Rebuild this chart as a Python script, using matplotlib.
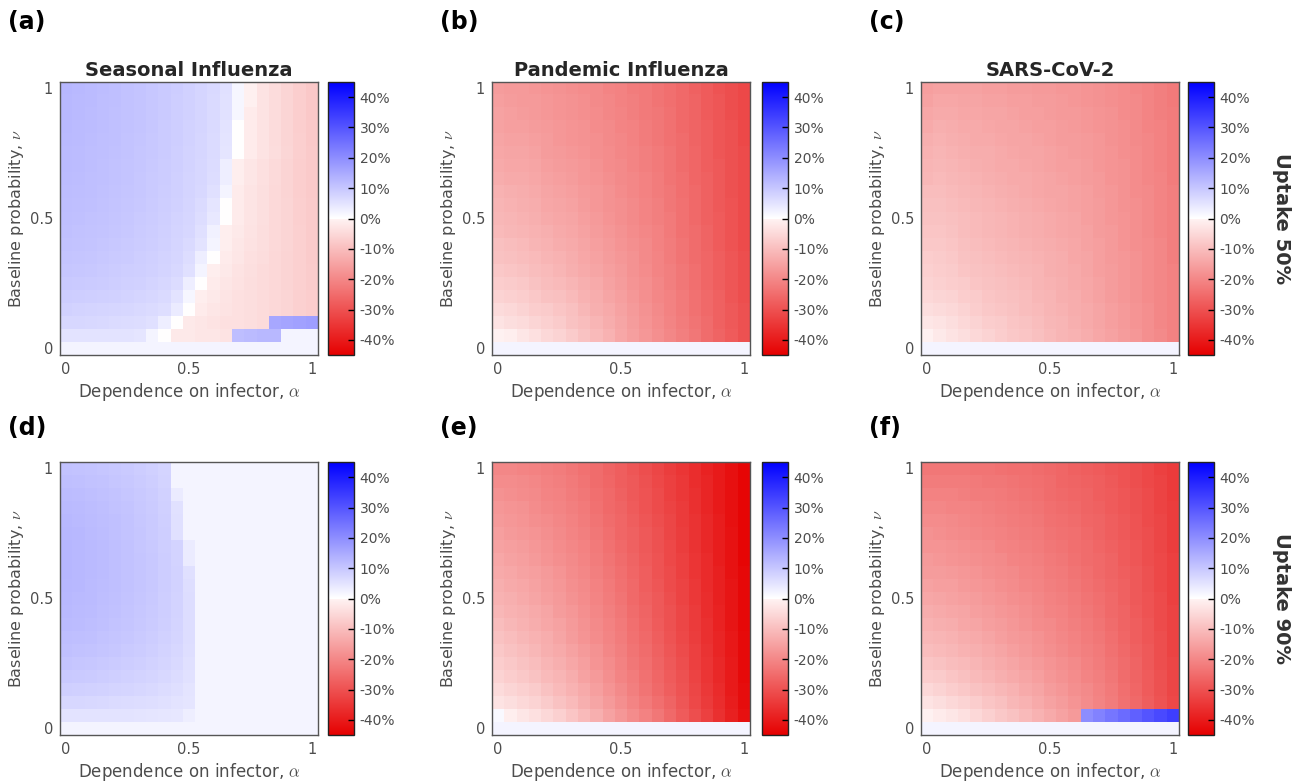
import numpy as np
import matplotlib
matplotlib.use("Agg")
import matplotlib.pyplot as plt
from matplotlib.colors import LinearSegmentedColormap, Normalize

plt.rcParams['font.family'] = ['DejaVu Sans']
plt.rcParams['mathtext.fontset'] = 'cm'

# grid values
alpha_vals = [0.0, 0.05, 0.1, 0.15, 0.2, 0.25, 0.3, 0.35, 0.4, 0.45, 0.5,
              0.55, 0.6, 0.65, 0.7, 0.75, 0.8, 0.85, 0.9, 0.95, 1.0]
nu_vals = [0.0, 0.05, 0.1, 0.15, 0.2, 0.25, 0.3, 0.35, 0.4, 0.45, 0.5,
           0.55, 0.6, 0.65, 0.7, 0.75, 0.8, 0.85, 0.9, 0.95, 1.0]

# rows: nu = 0 ... 1 (bottom to top); columns: alpha = 0 ... 1 ; values in %
seasonal_50 = [
 [2]*21,
 [5,5,5,5,5,5,4.5,2,0,-2,-2,-2.5,-2.5,-3,11.5,12,12.5,12.5,2,2,2],
 [7,7,6.8,6.6,6.4,6.2,6,5.5,3,0,-2,-2.5,-3,-3.5,-3.5,-4,-4.5,15.5,16,16.5,17],
 [8,7.8,7.6,7.4,7.2,7,6.7,6.3,5.8,3.5,0,-1.5,-2.5,-3,-3.5,-4,-4.5,-5,-5.5,-6.5,-7],
 [8.8,8.6,8.4,8.2,8,7.7,7.4,7,6.5,5,1.5,-1,-2,-2.8,-3.5,-4,-4.5,-5,-5.5,-6.5,-7],
 [9.5,9.3,9.1,8.9,8.6,8.3,8,7.6,7,6.2,3,0,-1.5,-2.5,-3.2,-4,-4.5,-5,-5.8,-6.5,-7.2],
 [10,9.8,9.6,9.3,9,8.7,8.4,8,7.5,6.8,5.5,2,-1,-2,-3,-3.8,-4.5,-5,-5.8,-6.5,-7.2],
 [10.4,10.2,10,9.7,9.4,9.1,8.7,8.3,7.8,7.2,6,3,0,-1.5,-2.5,-3.5,-4.2,-5,-5.8,-6.5,-7.3],
 [10.8,10.6,10.3,10,9.7,9.4,9,8.6,8,7.4,6.5,5,2,-1,-2.2,-3.2,-4,-4.8,-5.6,-6.5,-7.3],
 [11,10.8,10.6,10.3,10,9.6,9.2,8.8,8.2,7.6,7,5.5,2.5,-1,-2,-3,-4,-4.8,-5.6,-6.5,-7.4],
 [11.2,11,10.8,10.5,10.2,9.8,9.4,9,8.4,7.8,7.2,6,4,0,-1.5,-2.8,-3.8,-4.8,-5.6,-6.6,-7.5],
 [11.4,11.2,11,10.7,10.4,10,9.6,9.2,8.6,8,7.4,6.4,4.5,0,-1.5,-2.8,-3.8,-4.8,-5.7,-6.7,-7.5],
 [11.6,11.4,11.2,10.9,10.6,10.2,9.8,9.3,8.8,8.2,7.5,6.8,5.5,2,-1.5,-2.8,-3.8,-4.8,-5.8,-6.8,-7.6],
 [11.8,11.6,11.3,11,10.7,10.3,9.9,9.4,8.9,8.3,7.6,7,6,3,-1,-2.5,-3.6,-4.7,-5.8,-6.8,-7.6],
 [12,11.7,11.4,11.1,10.8,10.4,10,9.5,9,8.4,7.7,7.1,6.2,3,-1,-2.5,-3.6,-4.7,-5.8,-6.8,-7.7],
 [12,11.8,11.5,11.2,10.9,10.5,10.1,9.6,9.1,8.5,7.8,7.2,6.4,4.5,0,-1.5,-3,-4.2,-5.4,-6.6,-7.7],
 [12.2,11.9,11.6,11.3,11,10.6,10.2,9.7,9.2,8.6,7.9,7.2,6.4,4.8,0,-1.5,-3,-4.3,-5.5,-6.7,-7.8],
 [12.3,12,11.7,11.4,11.1,10.7,10.3,9.8,9.2,8.6,7.9,7.3,6.5,5,0,-1.5,-3,-4.3,-5.5,-6.8,-7.9],
 [12.4,12.1,11.8,11.5,11.1,10.7,10.3,9.8,9.3,8.7,8,7.3,6.5,5.2,1.5,-1.5,-3,-4.3,-5.5,-6.8,-8],
 [12.5,12.2,11.9,11.5,11.2,10.8,10.4,9.9,9.3,8.7,8,7.3,6.5,5.3,1.5,-0.7,-3,-4.3,-5.5,-6.8,-8],
 [12.6,12.3,12,11.6,11.2,10.8,10.4,9.9,9.4,8.8,8.1,7.4,6.6,5.4,1.5,-0.7,-3,-4.3,-5.6,-6.8,-8],
]

pandemic_50 = [
 [2]*21,
 [-0.5,-1,-2.5,-3.5,-5,-6,-7.5,-9,-10.5,-12,-14,-15.5,-17,-18.5,-20,-21.5,-23,-25,-26.5,-28,-30],
 [-3,-4,-4.5,-5.5,-6.5,-7.5,-9,-10,-11.5,-13,-14.5,-16,-17.5,-19,-20.5,-22,-23.5,-25,-27,-28.5,-30],
 [-4.5,-5,-6,-7,-7.5,-8.5,-9.5,-11,-12.5,-13.5,-15,-16.5,-18,-19.5,-21,-22.5,-24,-25.5,-27,-28.5,-30],
 [-6,-6.5,-7,-8,-9,-9.5,-10.5,-12,-13,-14.5,-15.5,-17,-18.5,-20,-21,-22.5,-24,-25.5,-27,-29,-30.5],
 [-7,-7.5,-8,-9,-10,-10.5,-11.5,-12.5,-13.5,-15,-16,-17.5,-18.5,-20,-21.5,-23,-24.5,-26,-27.5,-29,-30.5],
 [-8,-8.5,-9,-10,-10.5,-11.5,-12.5,-13.5,-14.5,-15.5,-16.5,-18,-19,-20.5,-21.5,-23,-24.5,-26,-27.5,-29,-30.5],
 [-9,-9.5,-10,-10.5,-11.5,-12,-13,-14,-15,-16,-17,-18,-19.5,-20.5,-22,-23.5,-25,-26,-27.5,-29,-30.5],
 [-9.5,-10,-10.5,-11.5,-12,-13,-13.5,-14.5,-15.5,-16.5,-17.5,-18.5,-19.5,-21,-22,-23.5,-25,-26.5,-28,-29.5,-31],
 [-10.5,-11,-11.5,-12,-12.5,-13.5,-14,-15,-16,-17,-18,-19,-20,-21,-22.5,-24,-25,-26.5,-28,-29.5,-31],
 [-11,-11.5,-12,-12.5,-13.5,-14,-14.5,-15.5,-16.5,-17.5,-18.5,-19.5,-20.5,-21.5,-22.5,-24,-25.5,-27,-28,-29.5,-31],
 [-11.5,-12,-12.5,-13,-14,-14.5,-15,-16,-17,-18,-18.5,-19.5,-20.5,-21.5,-23,-24,-25.5,-27,-28.5,-29.5,-31],
 [-12,-12.5,-13,-13.5,-14.5,-15,-15.5,-16.5,-17,-18,-19,-20,-21,-22,-23,-24.5,-25.5,-27,-28.5,-30,-31],
 [-13,-13.5,-13.5,-14,-15,-15.5,-16,-17,-17.5,-18.5,-19.5,-20,-21,-22,-23.5,-24.5,-26,-27,-28.5,-30,-31],
 [-13.5,-14,-14,-14.5,-15.5,-16,-16.5,-17,-18,-19,-19.5,-20.5,-21.5,-22.5,-23.5,-25,-26,-27.5,-28.5,-30,-31],
 [-14,-14.5,-14.5,-15,-16,-16.5,-17,-17.5,-18.5,-19,-20,-20.5,-21.5,-22.5,-23.5,-25,-26,-27.5,-29,-30,-31],
 [-14.5,-15,-15,-15.5,-16,-17,-17.5,-18,-18.5,-19.5,-20,-21,-22,-23,-24,-25,-26.5,-27.5,-29,-30,-31.5],
 [-15,-15.5,-15.5,-16,-16.5,-17,-17.5,-18,-19,-19.5,-20.5,-21,-22,-23,-24,-25.5,-26.5,-27.5,-29,-30,-31.5],
 [-15,-15.5,-16,-16.5,-17,-17.5,-18,-18.5,-19,-20,-20.5,-21.5,-22.5,-23,-24,-25.5,-26.5,-28,-29,-30.5,-31.5],
 [-15.5,-16,-16.5,-16.5,-17,-17.5,-18,-18.5,-19.5,-20,-21,-21.5,-22.5,-23.5,-24.5,-25.5,-26.5,-28,-29,-30.5,-31.5],
 [-16,-16.5,-16.5,-17,-17.5,-18,-18.5,-19,-19.5,-20.5,-21,-22,-22.5,-23.5,-24.5,-25.5,-27,-28,-29.5,-30.5,-31.5],
]

sars_50 = [
 [2]*21,
 [-0.5,-2,-3,-4,-5,-6,-7,-8,-8.5,-9.5,-10.5,-11.5,-12,-13,-14,-15,-16,-17,-18.5,-19.5,-21],
 [-2.5,-3,-4,-5,-6,-7,-7.5,-8.5,-9,-10,-11,-11.5,-12.5,-13.5,-14.5,-15.5,-16.5,-17.5,-18.5,-20,-21],
 [-4,-4.5,-5,-6,-7,-8,-8.5,-9,-10,-10.5,-11.5,-12,-13,-13.5,-14.5,-15.5,-16.5,-17.5,-18.5,-20,-21],
 [-5,-5.5,-6,-7,-7.5,-8.5,-9,-9.5,-10,-11,-11.5,-12.5,-13,-14,-15,-16,-17,-18,-19,-20,-21],
 [-6,-6.5,-7,-7.5,-8.5,-9,-9.5,-10,-10.5,-11.5,-12,-12.5,-13.5,-14,-15,-16,-17,-18,-19,-20,-21],
 [-6.5,-7,-7.5,-8.5,-9,-9.5,-10,-10.5,-11,-11.5,-12.5,-13,-13.5,-14.5,-15.5,-16,-17,-18,-19,-20,-21],
 [-7,-7.5,-8,-9,-9.5,-10,-10.5,-11,-11.5,-12,-12.5,-13,-14,-14.5,-15.5,-16.5,-17,-18,-19,-20,-21.5],
 [-8,-8,-8.5,-9.5,-10,-10.5,-11,-11.5,-12,-12.5,-13,-13.5,-14,-15,-15.5,-16.5,-17.5,-18.5,-19,-20,-21.5],
 [-8.5,-8.5,-9,-10,-10.5,-11,-11.5,-12,-12.5,-13,-13.5,-14,-14.5,-15,-16,-16.5,-17.5,-18.5,-19.5,-20.5,-21.5],
 [-9,-9,-9.5,-10,-10.5,-11,-11.5,-12,-12.5,-13,-13.5,-14,-14.5,-15.5,-16,-17,-17.5,-18.5,-19.5,-20.5,-21.5],
 [-9.5,-9.5,-10,-10.5,-11,-11.5,-12,-12.5,-13,-13.5,-14,-14.5,-15,-15.5,-16,-17,-18,-18.5,-19.5,-20.5,-21.5],
 [-10,-10,-10.5,-11,-11.5,-12,-12.5,-13,-13.5,-14,-14.5,-14.5,-15,-15.5,-16.5,-17,-18,-19,-19.5,-20.5,-21.5],
 [-11,-10.5,-11,-11.5,-12,-12.5,-13,-13.5,-13.5,-14,-14.5,-15,-15.5,-16,-16.5,-17.5,-18,-19,-20,-20.5,-22],
 [-11.5,-11,-11.5,-12,-12.5,-13,-13.5,-13.5,-14,-14.5,-15,-15.5,-15.5,-16,-17,-17.5,-18,-19,-20,-21,-22],
 [-12,-11.5,-12,-12.5,-13,-13,-13.5,-14,-14.5,-14.5,-15,-15.5,-16,-16.5,-17,-17.5,-18.5,-19,-20,-21,-22],
 [-12.5,-12,-12.5,-13,-13.5,-13.5,-14,-14.5,-14.5,-15,-15.5,-16,-16,-16.5,-17,-18,-18.5,-19.5,-20,-21,-22],
 [-13.5,-12.5,-13,-13.5,-13.5,-14,-14.5,-14.5,-15,-15.5,-15.5,-16,-16.5,-17,-17.5,-18,-18.5,-19.5,-20.5,-21,-22],
 [-14,-13.5,-13.5,-14,-14,-14.5,-14.5,-15,-15.5,-15.5,-16,-16.5,-16.5,-17,-17.5,-18,-19,-19.5,-20.5,-21.5,-22],
 [-15,-14,-14,-14.5,-14.5,-15,-15,-15.5,-15.5,-16,-16,-16.5,-17,-17.5,-18,-18.5,-19,-19.5,-20.5,-21.5,-22.5],
 [-15.5,-15,-15,-15,-15,-15.5,-15.5,-16,-16,-16.5,-16.5,-17,-17,-17.5,-18,-18.5,-19,-20,-20.5,-21.5,-22.5],
]

seasonal_90 = [
 [2]*21,
 [5,5,5,5,5,5,4.8,4.6,4.4,4.2,3,2,2,2,2,2,2,2,2,2,2],
 [7,7,6.8,6.6,6.4,6.2,6,5.8,5.5,5,4.5,2,2,2,2,2,2,2,2,2,2],
 [8.5,8.3,8.1,7.9,7.6,7.3,7,6.6,6.2,5.6,4.8,2,2,2,2,2,2,2,2,2,2],
 [9.5,9.3,9.1,8.8,8.5,8.1,7.7,7.3,6.8,6.2,5.2,2,2,2,2,2,2,2,2,2,2],
 [10.3,10.1,9.8,9.5,9.2,8.8,8.4,7.9,7.3,6.6,5.5,2,2,2,2,2,2,2,2,2,2],
 [11,10.8,10.5,10.2,9.8,9.4,8.9,8.4,7.8,7,5.8,2,2,2,2,2,2,2,2,2,2],
 [11.5,11.3,11,10.6,10.2,9.8,9.3,8.8,8.1,7.3,6,2,2,2,2,2,2,2,2,2,2],
 [12,11.7,11.4,11,10.6,10.2,9.7,9.1,8.4,7.5,6,2,2,2,2,2,2,2,2,2,2],
 [12.3,12,11.7,11.3,10.9,10.4,9.9,9.3,8.6,7.7,6,2,2,2,2,2,2,2,2,2,2],
 [12.5,12.2,11.9,11.5,11.1,10.6,10.1,9.5,8.7,7.8,6,2,2,2,2,2,2,2,2,2,2],
 [12.7,12.4,12,11.6,11.2,10.7,10.2,9.6,8.8,7.9,5.8,2,2,2,2,2,2,2,2,2,2],
 [12.8,12.5,12.1,11.7,11.2,10.7,10.2,9.6,8.8,7.9,5.5,2,2,2,2,2,2,2,2,2,2],
 [12.8,12.5,12.1,11.7,11.2,10.7,10.2,9.6,8.8,7.8,3.5,2,2,2,2,2,2,2,2,2,2],
 [12.8,12.5,12.1,11.7,11.2,10.7,10.1,9.5,8.7,7.7,3.5,2,2,2,2,2,2,2,2,2,2],
 [12.7,12.4,12,11.6,11.1,10.6,10,9.4,8.6,5.5,2,2,2,2,2,2,2,2,2,2,2],
 [12.5,12.2,11.8,11.4,11,10.5,9.9,9.3,8.5,5.5,2,2,2,2,2,2,2,2,2,2,2],
 [12.2,12,11.6,11.2,10.8,10.3,9.7,9.1,8.3,5.3,2,2,2,2,2,2,2,2,2,2,2],
 [11.8,11.6,11.3,10.9,10.5,10,9.5,8.9,8.1,3.5,2,2,2,2,2,2,2,2,2,2,2],
 [11.3,11.1,10.8,10.5,10.1,9.7,9.2,8.6,7.8,2,2,2,2,2,2,2,2,2,2,2,2],
 [10.8,10.6,10.3,10,9.7,9.3,8.8,8.3,7.5,2,2,2,2,2,2,2,2,2,2,2,2],
]

pandemic_90 = [
 [2]*21,
 [1,-1,-2.5,-3.5,-5,-6.5,-8.5,-10.5,-12.5,-15,-17,-19,-21,-23,-25.5,-28,-30.5,-33,-36,-39,-42],
 [-3,-4,-5,-6,-7.5,-9,-10.5,-12.5,-14.5,-16.5,-18.5,-20.5,-22.5,-24.5,-26.5,-29,-31.5,-34,-36.5,-39.5,-42.5],
 [-4.5,-5.5,-6.5,-7.5,-9,-10.5,-12,-13.5,-15.5,-17.5,-19.5,-21.5,-23.5,-25.5,-27.5,-29.5,-32,-34.5,-37,-40,-42.5],
 [-6,-7,-8,-9,-10.5,-11.5,-13,-15,-16.5,-18.5,-20.5,-22,-24,-26,-28,-30,-32.5,-35,-37.5,-40,-43],
 [-7,-8,-9,-10,-11.5,-12.5,-14,-15.5,-17.5,-19,-21,-23,-24.5,-26.5,-28.5,-30.5,-33,-35,-37.5,-40,-43],
 [-8,-9,-10,-11,-12.5,-13.5,-15,-16.5,-18,-20,-21.5,-23.5,-25,-27,-29,-31,-33,-35.5,-38,-40.5,-43],
 [-9,-10,-11,-12,-13,-14.5,-16,-17.5,-19,-20.5,-22,-24,-25.5,-27.5,-29.5,-31.5,-33.5,-36,-38,-40.5,-43],
 [-10,-11,-12,-13,-14,-15,-16.5,-18,-19.5,-21,-22.5,-24.5,-26,-28,-30,-32,-34,-36,-38.5,-41,-43.5],
 [-11,-12,-12.5,-13.5,-14.5,-16,-17,-18.5,-20,-21.5,-23,-25,-26.5,-28.5,-30,-32,-34,-36.5,-38.5,-41,-43.5],
 [-12,-12.5,-13.5,-14.5,-15.5,-16.5,-18,-19,-20.5,-22,-23.5,-25.5,-27,-28.5,-30.5,-32.5,-34.5,-36.5,-39,-41,-43.5],
 [-12.5,-13.5,-14,-15,-16,-17,-18.5,-19.5,-21,-22.5,-24,-25.5,-27.5,-29,-31,-32.5,-34.5,-37,-39,-41,-43.5],
 [-13.5,-14,-15,-15.5,-16.5,-17.5,-19,-20,-21.5,-23,-24.5,-26,-27.5,-29.5,-31,-33,-35,-37,-39,-41.5,-43.5],
 [-14,-15,-15.5,-16.5,-17.5,-18.5,-19.5,-20.5,-22,-23.5,-25,-26.5,-28,-29.5,-31.5,-33,-35,-37,-39.5,-41.5,-44],
 [-15,-15.5,-16,-17,-18,-19,-20,-21,-22.5,-24,-25.5,-27,-28.5,-30,-31.5,-33.5,-35.5,-37.5,-39.5,-41.5,-44],
 [-15.5,-16.5,-17,-17.5,-18.5,-19.5,-20.5,-21.5,-23,-24.5,-26,-27,-28.5,-30,-32,-33.5,-35.5,-37.5,-39.5,-41.5,-44],
 [-16.5,-17,-17.5,-18.5,-19,-20,-21,-22,-23.5,-25,-26,-27.5,-29,-30.5,-32,-34,-35.5,-37.5,-39.5,-42,-44],
 [-17,-17.5,-18,-19,-20,-20.5,-21.5,-22.5,-24,-25.5,-26.5,-28,-29.5,-31,-32.5,-34,-36,-38,-40,-42,-44],
 [-18,-18.5,-19,-19.5,-20.5,-21,-22,-23,-24.5,-25.5,-27,-28.5,-29.5,-31,-33,-34.5,-36,-38,-40,-42,-44],
 [-19,-19,-19.5,-20,-21,-21.5,-22.5,-23.5,-25,-26,-27.5,-28.5,-30,-31.5,-33,-34.5,-36.5,-38,-40,-42,-44],
 [-20,-20,-20.5,-21,-21.5,-22,-23,-24,-25,-26.5,-27.5,-29,-30.5,-32,-33.5,-35,-36.5,-38.5,-40,-42,-44],
]

sars_90 = [
 [2]*21,
 [-0.5,-1.5,-2.5,-3.5,-5,-6.5,-8,-9,-10.5,-12,-13.5,-15,-16.5,20,22,24,26,28,30,32,34],
 [-3,-4,-5,-6,-7,-8.5,-9.5,-11,-12,-13.5,-15,-16,-17.5,-19,-20.5,-22,-24,-25.5,-27.5,-29.5,-31.5],
 [-5,-6,-7,-8,-9,-10,-11,-12,-13.5,-14.5,-16,-17,-18.5,-19.5,-21,-22.5,-24.5,-26,-28,-30,-32],
 [-7,-7.5,-8.5,-9.5,-10.5,-11.5,-12.5,-13.5,-14.5,-15.5,-17,-18,-19,-20.5,-21.5,-23,-25,-26.5,-28,-30,-32],
 [-8.5,-9,-10,-10.5,-11.5,-12.5,-13.5,-14.5,-15.5,-16.5,-17.5,-18.5,-19.5,-21,-22,-23.5,-25,-26.5,-28.5,-30.5,-32],
 [-10,-10.5,-11,-12,-12.5,-13.5,-14.5,-15.5,-16.5,-17.5,-18.5,-19.5,-20.5,-21.5,-22.5,-24,-25.5,-27,-28.5,-30.5,-32.5],
 [-11,-11.5,-12,-13,-13.5,-14.5,-15.5,-16.5,-17,-18,-19,-20,-21,-22,-23,-24.5,-26,-27.5,-29,-30.5,-32.5],
 [-12,-12.5,-13,-14,-14.5,-15.5,-16,-17,-18,-19,-19.5,-20.5,-21.5,-22.5,-23.5,-25,-26.5,-27.5,-29,-31,-32.5],
 [-13,-13.5,-14,-14.5,-15.5,-16,-17,-17.5,-18.5,-19.5,-20.5,-21,-22,-23,-24,-25.5,-26.5,-28,-29.5,-31,-32.5],
 [-14,-14.5,-15,-15.5,-16,-17,-17.5,-18.5,-19,-20,-21,-21.5,-22.5,-23.5,-24.5,-25.5,-27,-28.5,-29.5,-31,-33],
 [-15,-15.5,-15.5,-16.5,-17,-17.5,-18.5,-19,-20,-20.5,-21.5,-22,-23,-24,-25,-26,-27,-28.5,-30,-31.5,-33],
 [-16,-16,-16.5,-17,-17.5,-18.5,-19,-19.5,-20.5,-21,-22,-22.5,-23.5,-24.5,-25.5,-26.5,-27.5,-28.5,-30,-31.5,-33],
 [-16.5,-17,-17.5,-18,-18.5,-19,-19.5,-20.5,-21,-21.5,-22.5,-23,-24,-25,-25.5,-26.5,-28,-29,-30.5,-31.5,-33],
 [-17.5,-17.5,-18,-18.5,-19,-19.5,-20.5,-21,-21.5,-22,-23,-23.5,-24.5,-25,-26,-27,-28,-29,-30.5,-32,-33.5],
 [-18,-18.5,-19,-19.5,-20,-20.5,-21,-21.5,-22,-22.5,-23.5,-24,-24.5,-25.5,-26.5,-27.5,-28.5,-29.5,-30.5,-32,-33.5],
 [-19,-19,-19.5,-20,-20.5,-21,-21.5,-22,-22.5,-23,-24,-24.5,-25,-26,-26.5,-27.5,-28.5,-29.5,-31,-32,-33.5],
 [-20,-20,-20.5,-20.5,-21,-21.5,-22,-22.5,-23,-23.5,-24.5,-25,-25.5,-26.5,-27,-28,-29,-30,-31,-32.5,-33.5],
 [-21,-21,-21,-21.5,-22,-22,-22.5,-23,-23.5,-24,-25,-25.5,-26,-26.5,-27.5,-28,-29,-30,-31,-32.5,-34],
 [-22,-22,-22,-22,-22.5,-23,-23,-23.5,-24,-24.5,-25,-26,-26.5,-27,-27.5,-28.5,-29.5,-30.5,-31.5,-32.5,-34],
 [-23,-23,-23,-23,-23.5,-23.5,-24,-24.5,-24.5,-25,-25.5,-26,-27,-27.5,-28,-29,-29.5,-30.5,-31.5,-33,-34],
]

titles = ["Seasonal Influenza", "Pandemic Influenza", "SARS-CoV-2"]
panel_letters = ["(a)", "(b)", "(c)", "(d)", "(e)", "(f)"]
row_labels = ["Uptake 50%", "Uptake 90%"]
cbar_ticks = [-40, -30, -20, -10, 0, 10, 20, 30, 40]
cbar_ticklabels = ["-40%", "-30%", "-20%", "-10%", "0%", "10%", "20%", "30%", "40%"]
axis_ticks = [0, 0.5, 1]
axis_ticklabels = ["0", "0.5", "1"]

panels = [seasonal_50, pandemic_50, sars_50, seasonal_90, pandemic_90, sars_90]

# colormap: red (negative) -> pinkish white at 0-, white at 0+ -> blue
cmap = LinearSegmentedColormap.from_list(
    "redwhiteblue",
    [(0.0, (0.90, 0.0, 0.0)),
     (0.4995, (1.0, 0.955, 0.955)),
     (0.5005, (1.0, 1.0, 1.0)),
     (1.0, (0.0, 0.0, 1.0))], N=1024)
norm = Normalize(vmin=-45, vmax=45)

W, H = 1304, 782
fig = plt.figure(figsize=(W / 100, H / 100), dpi=100)

def fx(px):
    return px / W

def fy(py):
    return 1 - py / H

ax_left = [60, 492, 921]
cb_left = [328, 762, 1188]
row_top = [82, 462]
letter_y = [22, 428]
ax_w, ax_h = 258, 273
cb_w = 26

tick_color = "#4d4d4d"
a = np.array(alpha_vals)
n = np.array(nu_vals)
da = a[1] - a[0]
dn = n[1] - n[0]
extent = [a[0] - da / 2, a[-1] + da / 2, n[0] - dn / 2, n[-1] + dn / 2]

for i, data in enumerate(panels):
    r, c = divmod(i, 3)
    top = row_top[r]
    ax = fig.add_axes([fx(ax_left[c]), fy(top + ax_h), fx(ax_w), ax_h / H])
    im = ax.imshow(np.array(data, dtype=float), origin="lower", extent=extent,
                   cmap=cmap, norm=norm, aspect="auto", interpolation="nearest")
    ax.set_xlim(extent[0], extent[1])
    ax.set_ylim(extent[2], extent[3])
    ax.set_xticks(axis_ticks)
    ax.set_xticklabels(axis_ticklabels)
    ax.set_yticks(axis_ticks)
    ax.set_yticklabels(axis_ticklabels)
    ax.tick_params(length=0, labelsize=10.5, labelcolor=tick_color, pad=5)
    for s in ax.spines.values():
        s.set_color("#555555")
        s.set_linewidth(1.0)
    ax.set_xlabel(r"Dependence on infector, $\alpha$", fontsize=12,
                  color=tick_color, labelpad=3)
    ax.set_ylabel(r"Baseline probability, $\nu$", fontsize=11.5,
                  color=tick_color, labelpad=3)
    if r == 0:
        ax.set_title(titles[c], fontsize=14, fontweight="bold",
                     color="#262626", pad=4)

    cax = fig.add_axes([fx(cb_left[c]), fy(top + ax_h), fx(cb_w), ax_h / H])
    cb = fig.colorbar(im, cax=cax)
    cb.set_ticks(cbar_ticks)
    cb.set_ticklabels(cbar_ticklabels)
    cax.tick_params(direction="in", length=4, width=1, color="black",
                    labelsize=10, labelcolor=tick_color, pad=4)
    cb.outline.set_edgecolor("#222222")
    cb.outline.set_linewidth(1.0)

    fig.text(fx(ax_left[c] - 52), fy(letter_y[r]), panel_letters[i],
             fontsize=17, fontweight="bold", ha="left", va="center",
             color="black")

for r in range(2):
    fig.text(fx(1281), fy(row_top[r] + ax_h / 2), row_labels[r], rotation=270,
             fontsize=14, fontweight="bold", ha="center", va="center",
             color="#333333")

fig.savefig("out.png", dpi=100)
